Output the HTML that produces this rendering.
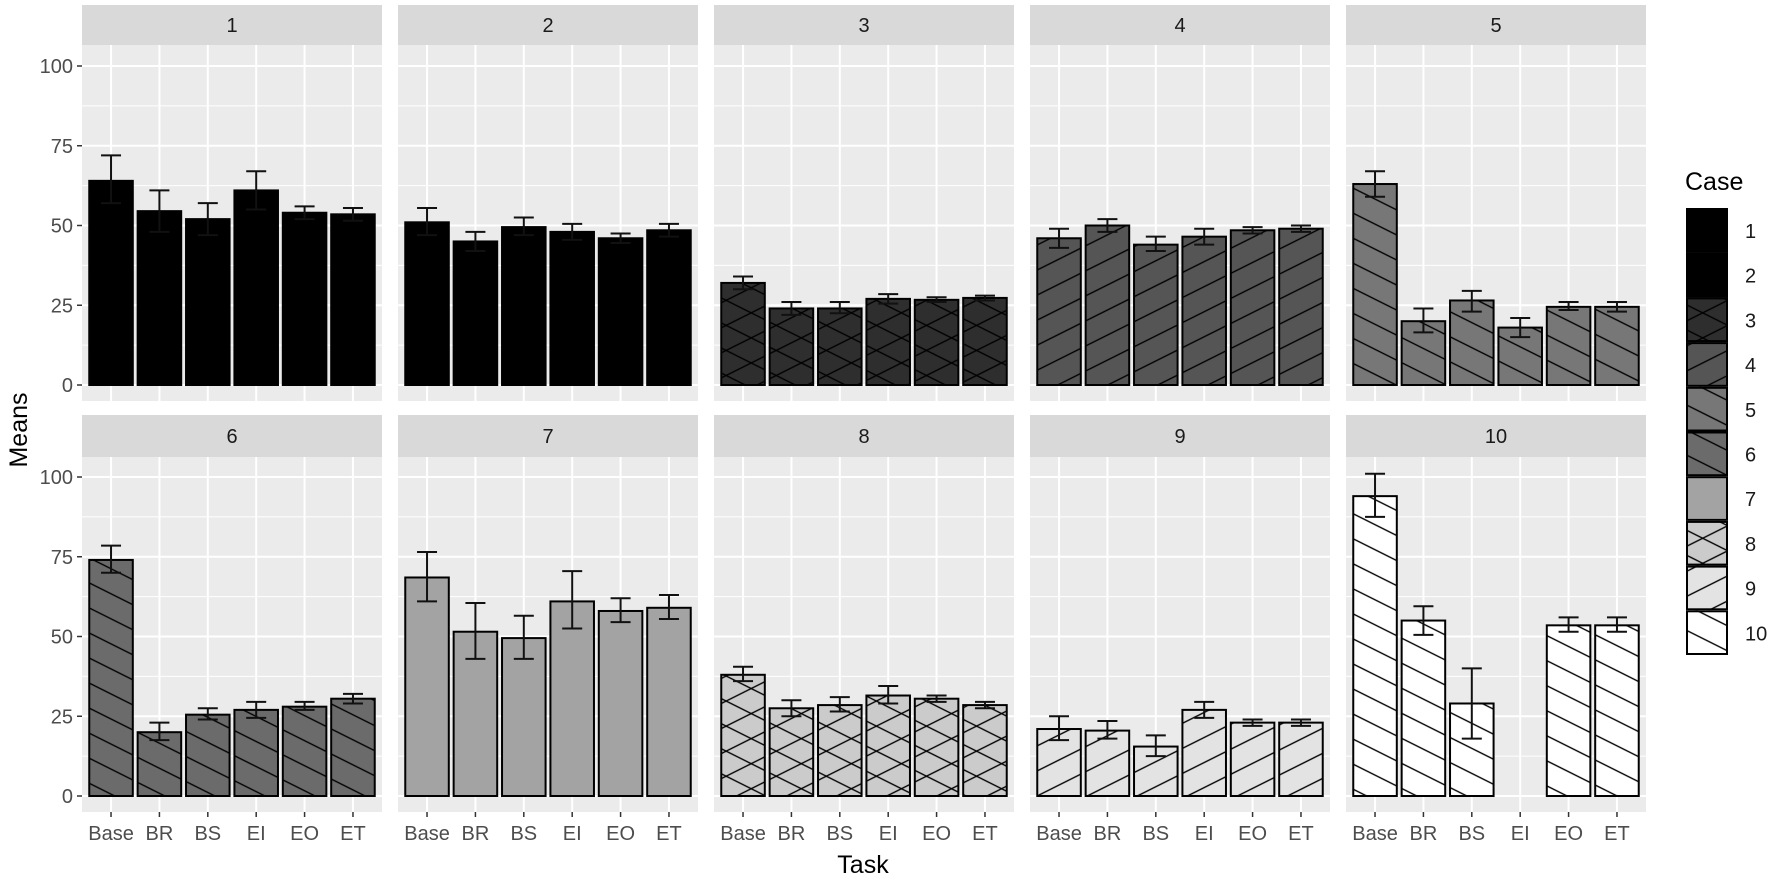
<!DOCTYPE html>
<html><head><meta charset="utf-8">
<style>
html,body{margin:0;padding:0;background:#fff;}
svg{display:block;}
text{font-family:"Liberation Sans",Arial,sans-serif;}
</style></head>
<body>
<svg id="s" width="1772" height="881" xmlns="http://www.w3.org/2000/svg">
<defs>
<pattern id="pb" patternUnits="userSpaceOnUse" width="200" height="22.4" patternTransform="rotate(26.57)"><line x1="0" y1="11" x2="200" y2="11" stroke="#000" stroke-width="1.3"/></pattern>
<pattern id="pf" patternUnits="userSpaceOnUse" width="200" height="22.4" patternTransform="rotate(-26.57)"><line x1="0" y1="11" x2="200" y2="11" stroke="#000" stroke-width="1.3"/></pattern>
</defs>
</svg>
<script>
const S=document.getElementById('s');const NS='http://www.w3.org/2000/svg';
function el(t,a,p){const e=document.createElementNS(NS,t);for(const k in a)e.setAttribute(k,a[k]);(p||S).appendChild(e);return e;}
function tx(x,y,s,a){const e=el('text',Object.assign({x:x,y:y},a));e.textContent=s;return e;}
const fills={1:'#000',2:'#000',3:'#2e2e2e',4:'#555',5:'#777',6:'#6b6b6b',7:'#a3a3a3',8:'#cbcbcb',9:'#e3e3e3',10:'#fff'};
const pats={3:['pb','pf'],4:['pf'],5:['pb'],6:['pb'],8:['pb','pf'],9:['pf'],10:['pb']};
const data={
1:[[64,57,72],[54.5,48,61],[52,47,57],[61,55,67],[54,52,56],[53.5,51.5,55.5]],
2:[[51,47,55.5],[45,42,48],[49.5,47,52.5],[48,45.5,50.5],[46,44.5,47.5],[48.5,46.5,50.5]],
3:[[32,30,34],[24,22,26],[24,22.5,26],[27,25.5,28.5],[26.7,26,27.5],[27.3,26.5,28]],
4:[[46,43,49],[50,48,52],[44,42,46.5],[46.5,44,49],[48.5,47.5,49.5],[49,48,50]],
5:[[63,59,67],[20,16.5,24],[26.5,23,29.5],[18,15,21],[24.5,23.5,26],[24.5,23,26]],
6:[[74,70,78.5],[20,17.5,23],[25.5,24,27.5],[27,24.5,29.5],[28,27,29.5],[30.5,29,32]],
7:[[68.5,61,76.5],[51.5,43,60.5],[49.5,43,56.5],[61,52.5,70.5],[58,54.5,62],[59,55.5,63]],
8:[[38,36,40.5],[27.5,25,30],[28.5,26.5,31],[31.5,29,34.5],[30.5,29.5,31.5],[28.5,27.5,29.5]],
9:[[21,17.5,25],[20.5,18,23.5],[15.5,12.5,19],[27,24.5,29.5],[23,22,24],[23,22,24]],
10:[[94,87.5,101],[55,50.5,59.5],[29,18,40],null,[53.5,51.5,56],[53.5,51.5,56]]};
const cats=['Base','BR','BS','EI','EO','ET'];
const lefts=[82,398,714,1030,1346],PW=300,step=PW/6.2,k=3.19;
const rows=[{st:5,pt:45,pb:401,z:385},{st:415,pt:457,pb:812,z:796}];
for(let r=0;r<2;r++){const R=rows[r];
 [0,25,50,75,100].forEach(v=>{const y=R.z-v*k;tx(73,y+7,String(v),{'font-size':20,fill:'#4d4d4d','text-anchor':'end'});el('line',{x1:77,x2:82,y1:y,y2:y,stroke:'#333','stroke-width':1.5});});
 for(let c=0;c<5;c++){const p=r*5+c+1,L=lefts[c];
  el('rect',{x:L,y:R.st,width:PW,height:R.pt-R.st,fill:'#d9d9d9'});
  tx(L+PW/2,(R.st+R.pt)/2+7,String(p),{'font-size':20,fill:'#1a1a1a','text-anchor':'middle'});
  el('rect',{x:L,y:R.pt,width:PW,height:R.pb-R.pt,fill:'#ebebeb'});
  [12.5,37.5,62.5,87.5].forEach(v=>{const y=R.z-v*k;el('line',{x1:L,x2:L+PW,y1:y,y2:y,stroke:'#fff','stroke-width':1});});
  [0,25,50,75,100].forEach(v=>{const y=R.z-v*k;el('line',{x1:L,x2:L+PW,y1:y,y2:y,stroke:'#fff','stroke-width':2});});
  for(let i=0;i<6;i++){const cx=L+(0.6+i)*step;el('line',{x1:cx,x2:cx,y1:R.pt,y2:R.pb,stroke:'#fff','stroke-width':2});
   if(r==1){el('line',{x1:cx,x2:cx,y1:R.pb,y2:R.pb+5,stroke:'#333','stroke-width':1.5});tx(cx,R.pb+28,cats[i],{'font-size':20,fill:'#4d4d4d','text-anchor':'middle'});}}
  for(let i=0;i<6;i++){const d=data[p][i];if(!d)continue;const cx=L+(0.6+i)*step,bw=step*0.9;
   const y=R.z-d[0]*k;
   el('rect',{x:cx-bw/2,y:y,width:bw,height:d[0]*k,fill:fills[p]});
   (pats[p]||[]).forEach(pt=>el('rect',{x:cx-bw/2,y:y,width:bw,height:d[0]*k,fill:'url(#'+pt+')'}));
   el('rect',{x:cx-bw/2,y:y,width:bw,height:d[0]*k,fill:'none',stroke:'#000','stroke-width':2});
   const y1=R.z-d[1]*k,y2=R.z-d[2]*k;
   el('line',{x1:cx,x2:cx,y1:y1,y2:y2,stroke:'#111','stroke-width':2});
   el('line',{x1:cx-10,x2:cx+10,y1:y1,y2:y1,stroke:'#111','stroke-width':2});
   el('line',{x1:cx-10,x2:cx+10,y1:y2,y2:y2,stroke:'#111','stroke-width':2});
  }}}
tx(863,873,'Task',{'font-size':25,fill:'#000','text-anchor':'middle'});
tx(0,0,'Means',{'font-size':25,fill:'#000','text-anchor':'middle',transform:'translate(27,430) rotate(-90)'});
tx(1685,190,'Case',{'font-size':25,fill:'#000'});
for(let i=1;i<=10;i++){const y=208+(i-1)*44.7;
 el('rect',{x:1686,y:y,width:42,height:44.7,fill:fills[i]});
 (pats[i]||[]).forEach(pt=>el('rect',{x:1686,y:y,width:42,height:44.7,fill:'url(#'+pt+')'}));
 el('rect',{x:1687,y:y+1,width:40,height:42.7,fill:'none',stroke:'#000','stroke-width':2});
 tx(1745,y+30,String(i),{'font-size':20,fill:'#1a1a1a'});}
</script>
</body></html>
